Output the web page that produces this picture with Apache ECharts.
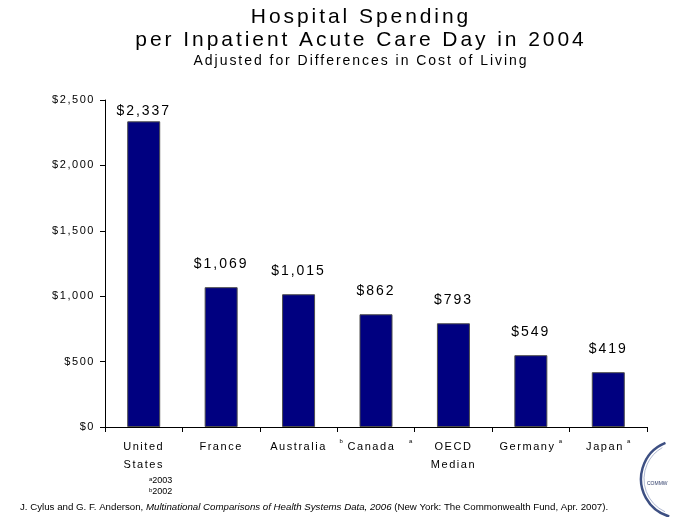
<!DOCTYPE html>
<html>
<head>
<meta charset="utf-8">
<title>Hospital Spending per Inpatient Acute Care Day in 2004</title>
<script src="https://cdn.jsdelivr.net/npm/echarts@6/dist/echarts.min.js"></script>
<style>
  html, body { margin: 0; padding: 0; background: #fff; }
  #chart { width: 677px; height: 517px; }
</style>
</head>
<body>
<div id="chart"></div>
<script>
// Countries (two-line names break with \n) and spending per day, in US$
const categories = ['United\nStates', 'France', 'Australia', 'Canada', 'OECD\nMedian', 'Germany', 'Japan'];
const spending = [2337, 1069, 1015, 862, 793, 549, 419];
// Footnote markers placed before / after each country name
const notesBefore = ['', '', '', 'b', '', '', ''];
const notesAfter = ['', '', '', 'a', '', 'a', 'a'];
// Value axis ticks
const yTicks = [0, 500, 1000, 1500, 2000, 2500];
// Footnotes under the axis
const footnotes = [['a', '2003'], ['b', '2002']];
const sourceAuthors = 'J. Cylus and G. F. Anderson, ';
const sourceTitle = 'Multinational Comparisons of Health Systems Data, 2006';
const sourceRest = ' (New York: The Commonwealth Fund, Apr. 2007).';

// Slide-style tracking: open up the letter spacing of every text of 10px and up.
(function () {
  const proto = window.CanvasRenderingContext2D && CanvasRenderingContext2D.prototype;
  if (!proto || !('letterSpacing' in proto)) return;
  ['fillText', 'strokeText', 'measureText'].forEach(function (name) {
    const original = proto[name];
    proto[name] = function () {
      const m = /(\d+(?:\.\d+)?)px/.exec(this.font);
      const size = m ? parseFloat(m[1]) : 12;
      this.letterSpacing = size >= 10 ? (size * 0.14).toFixed(2) + 'px' : '0px';
      return original.apply(this, arguments);
    };
  });
})();

const FONT = '"Liberation Sans", Arial, sans-serif';
const yMin = yTicks[0];
const yMax = yTicks[yTicks.length - 1];
const yStep = yTicks[1] - yTicks[0];

const money = v => '$' + v.toLocaleString('en-US');

const chart = echarts.init(document.getElementById('chart'), null, { renderer: 'canvas' });

chart.setOption({
  animation: false,
  backgroundColor: '#ffffff',
  title: {
    text: 'Hospital Spending\nper Inpatient Acute Care Day in 2004',
    subtext: 'Adjusted for Differences in Cost of Living',
    left: 361,
    textAlign: 'center',
    top: 6,
    padding: 0,
    itemGap: 0,
    textStyle: { fontFamily: FONT, fontSize: 21, fontWeight: 'normal', color: '#000', lineHeight: 23 },
    subtextStyle: { fontFamily: FONT, fontSize: 14, color: '#000', lineHeight: 16 }
  },
  grid: { left: 105, right: 30, top: 100, bottom: 90, containLabel: false },
  xAxis: {
    type: 'category',
    data: categories,
    boundaryGap: true,
    axisLine: { lineStyle: { color: '#000', width: 1 } },
    axisTick: { show: true, length: 5, inside: false, lineStyle: { color: '#000' } },
    axisLabel: {
      interval: 0,
      margin: 11,
      fontFamily: FONT,
      fontSize: 11,
      lineHeight: 18,
      color: '#000',
      formatter: function (name, i) {
        const before = notesBefore[i] ? '{sup|' + notesBefore[i] + '} ' : '';
        const after = notesAfter[i]
          ? (notesBefore[i] ? '   {sup|' + notesAfter[i] + '}' : '{sup|  ' + notesAfter[i] + '}')
          : '';
        return before + name + after;
      },
      rich: {
        sup: { fontFamily: FONT, fontSize: 6, lineHeight: 4, verticalAlign: 'top', color: '#000' }
      }
    }
  },
  yAxis: {
    type: 'value',
    min: yMin,
    max: yMax,
    interval: yStep,
    splitLine: { show: false },
    axisLine: { show: true, lineStyle: { color: '#000', width: 1 } },
    axisTick: { show: true, length: 5, inside: false, lineStyle: { color: '#000' } },
    axisLabel: {
      margin: 10,
      fontFamily: FONT,
      fontSize: 11,
      color: '#000',
      formatter: v => money(v)
    }
  },
  series: [{
    type: 'bar',
    barWidth: 33,
    itemStyle: { color: '#000080', borderColor: '#4d4d4d', borderWidth: 1 },
    label: {
      show: true,
      position: 'top',
      fontFamily: FONT,
      fontSize: 14,
      lineHeight: 14,
      color: '#000',
      formatter: p => money(p.value)
    },
    // The tallest bar keeps its label tucked under the top of the plot
    data: spending.map(v => ({
      value: v,
      label: { distance: v > yMax - 240 ? 3 : 16 }
    }))
  }],
  graphic: [
    ...footnotes.map((f, i) => ({
      type: 'text',
      left: 149,
      top: 476 + i * 11,
      silent: true,
      style: {
        text: '{s|' + f[0] + '}' + f[1],
        font: '9px ' + FONT,
        fill: '#000',
        lineHeight: 10,
        rich: { s: { fontFamily: FONT, fontSize: 6, lineHeight: 3, verticalAlign: 'top', fill: '#000' } }
      }
    })),
    {
      type: 'text',
      left: 20,
      top: 501,
      silent: true,
      style: {
        text: sourceAuthors + '{i|' + sourceTitle + '}' + sourceRest,
        font: '9.7px ' + FONT,
        fill: '#000',
        lineHeight: 12,
        rich: { i: { fontFamily: FONT, fontSize: 9.7, fontStyle: 'italic', fill: '#000', lineHeight: 12 } }
      }
    },
    // Seal in the corner
    {
      type: 'arc',
      silent: true,
      shape: { cx: 680, cy: 479, r: 39, startAngle: 1.85, endAngle: 4.33, clockwise: true },
      style: { stroke: '#3d4f82', lineWidth: 2.5, fill: null }
    },
    {
      type: 'arc',
      silent: true,
      shape: { cx: 680, cy: 479, r: 36, startAngle: 2.0, endAngle: 4.2, clockwise: true },
      style: { stroke: '#9aa6c4', lineWidth: 0.8, fill: null }
    },
    {
      type: 'text',
      silent: true,
      style: { x: 647, y: 484, text: 'COMMW', font: '5px ' + FONT, fill: '#2f3d6a', textVerticalAlign: 'middle' }
    }
  ]
});
</script>
</body>
</html>
